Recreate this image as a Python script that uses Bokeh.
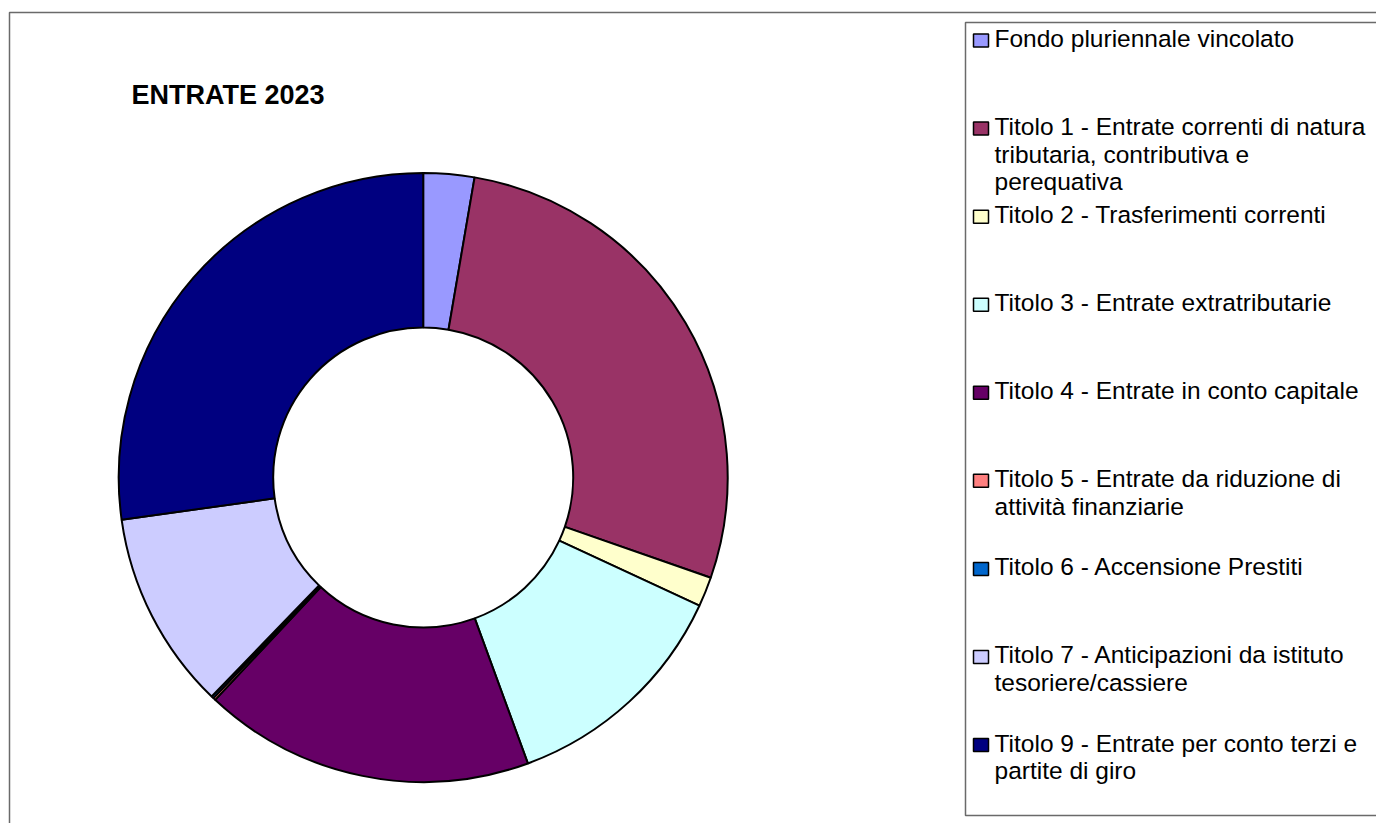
import math
from bokeh.plotting import figure
from bokeh.models import Range1d, ColumnDataSource
from bokeh.core.properties import value
from bokeh.embed import file_html
from bokeh.resources import INLINE

# ---------------- data ----------------
title_text = "ENTRATE 2023"
categories = [
    "Fondo pluriennale vincolato",
    "Titolo 1 - Entrate correnti di natura\ntributaria, contributiva e\nperequativa",
    "Titolo 2 - Trasferimenti correnti",
    "Titolo 3 - Entrate extratributarie",
    "Titolo 4 - Entrate in conto capitale",
    "Titolo 5 - Entrate da riduzione di\nattività finanziarie",
    "Titolo 6 - Accensione Prestiti",
    "Titolo 7 - Anticipazioni da istituto\ntesoriere/cassiere",
    "Titolo 9 - Entrate per conto terzi e\npartite di giro",
]
values = [2.70, 27.64, 1.58, 12.50, 17.56, 0.13, 0.12, 10.56, 27.22]
colors = ["#9999FF", "#993366", "#FFFFCC", "#CCFFFF", "#660066",
          "#FF8080", "#0066CC", "#CCCCFF", "#000080"]

# ---------------- layout ----------------
W, H = 1376, 823


def Y(y):
    """screen y (downwards) -> data y (upwards)"""
    return H - y


FONT = value("Liberation Sans")

p = figure(width=W, height=H,
           x_range=Range1d(0, W), y_range=Range1d(0, H),
           output_backend="svg", toolbar_location=None,
           x_axis_location=None, y_axis_location=None,
           min_border=0, outline_line_color=None)
p.grid.visible = False
p.background_fill_color = "white"
p.border_fill_color = "white"

# outer chart frame
p.quad(left=[9], right=[1420], top=[Y(12)], bottom=[Y(900)],
       fill_color=None, line_color="#6a6a6a", line_width=1.5)

# title
TXT_SHIFT_T = 8.5
p.text(x=[131], y=[Y(103 - TXT_SHIFT_T)], text=[title_text], text_font=FONT,
       text_font_size="27px", text_font_style="bold", text_color="black",
       text_baseline="alphabetic", text_align="left")

# donut
total = sum(values)
cum = 0.0
starts, ends = [], []
for v in values:
    starts.append(math.pi / 2 - 2 * math.pi * cum / total)
    cum += v
    ends.append(math.pi / 2 - 2 * math.pi * cum / total)

CX, CY = 422.7, 477.0
src = ColumnDataSource(dict(start=starts, end=ends, color=colors))
p.annular_wedge(x=CX, y=Y(CY), inner_radius=150, outer_radius=304.5,
                start_angle="start", end_angle="end", direction="clock",
                fill_color="color", line_color="black", line_width=2,
                source=src)

# legend box
p.quad(left=[965], right=[1420], top=[Y(22)], bottom=[Y(815)],
       fill_color="white", line_color="#6a6a6a", line_width=1.5)

first_center = 39.0
step = (743.5 - 39.0) / 8
line_pitch = 27.5
TXT_SHIFT = 9.5
sq_x, sq_y, txt_x, txt_y = [], [], [], []
txts = []
for i, lab in enumerate(categories):
    c = first_center + i * step
    sq_x.append(980.5)
    sq_y.append(Y(c + 1))
    for j, line in enumerate(lab.split("\n")):
        txt_x.append(994)
        txt_y.append(Y(c + 8.5 + j * line_pitch - TXT_SHIFT))
        txts.append(line)

p.rect(x=sq_x, y=sq_y, width=15, height=13, fill_color=colors,
       line_color="black", line_width=1.5)
p.text(x=txt_x, y=txt_y, text=txts, text_font=FONT, text_font_size="24.5px",
       text_color="black", text_baseline="alphabetic", text_align="left")

open("out.html", "w").write(file_html(p, INLINE))
